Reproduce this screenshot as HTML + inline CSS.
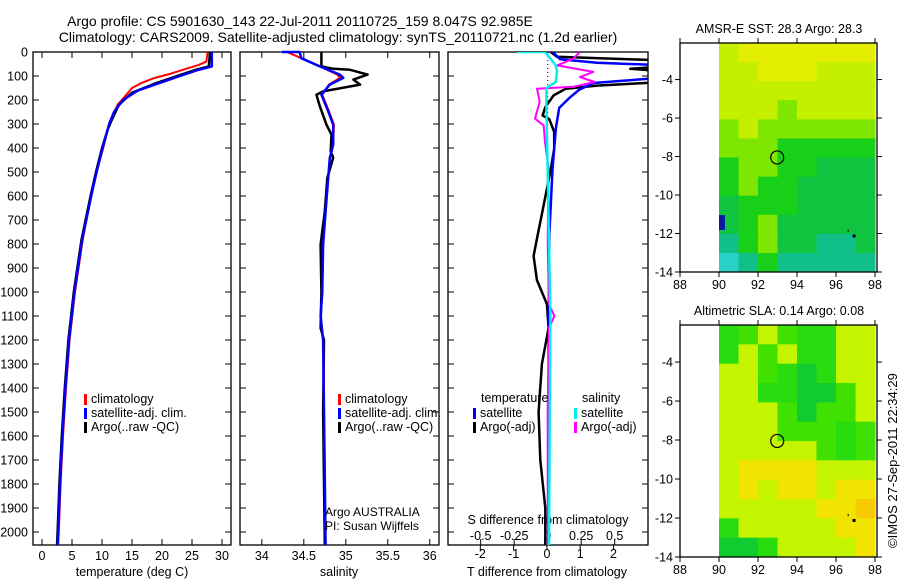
<!DOCTYPE html>
<html><head><meta charset="utf-8"><style>
body{margin:0;background:#fff;}
svg{display:block;font-family:"Liberation Sans",sans-serif;}
</style></head><body>
<svg id="c" width="900" height="580" xmlns="http://www.w3.org/2000/svg">
<text x="300" y="26" font-size="14" text-anchor="middle">Argo profile: CS 5901630_143 22-Jul-2011 20110725_159 8.047S 92.985E</text>
<text x="338" y="42" font-size="14" text-anchor="middle">Climatology: CARS2009. Satellite-adjusted climatology: synTS_20110721.nc (1.2d earlier)</text>
<g id="g"></g>
<text transform="translate(897,548) rotate(-90)" font-size="13">©IMOS 27-Sep-2011 22:34:29</text>
</svg>
<script>
// ---- data ----
const depthTicks=[0,100,200,300,400,500,600,700,800,900,1000,1100,1200,1300,1400,1500,1600,1700,1800,1900,2000];
const tempTicks=[0,5,10,15,20,25,30];
const salTicks=[34,34.5,35,35.5,36];
const tdiffTicks=[-2,-1,0,1,2];
const sdiffTicks=[-0.5,-0.25,0,0.25,0.5];
const sdiffLabels=["-0.5","-0.25","0","0.25","0.5"];
const tClim=[[0,27.6],[40,27.4],[55,26],[70,24],[90,21.5],[110,18.5],[130,16.5],[150,15],[180,14],[220,12.6],[290,11.3],[400,10.2],[500,9.1],[600,8.2],[780,6.8],[1000,5.5],[1200,4.6],[1400,4.0],[1600,3.5],[1800,3.1],[2000,2.8],[2054,2.7]];
const tSat=[[0,28.3],[60,28.3],[75,26],[100,23],[130,19.5],[160,16],[200,13.5],[250,12],[300,11.2],[400,10.1],[500,9.1],[600,8.2],[780,6.7],[1000,5.4],[1200,4.5],[1400,3.9],[1600,3.4],[1800,3.0],[2000,2.7],[2054,2.6]];
const tArgo=[[0,28],[60,27.8],[75,25.5],[100,22.5],[130,19],[170,15],[220,12.8],[290,11.5],[320,11],[400,10],[500,9.0],[600,8.1],[780,6.6],[1000,5.3],[1200,4.4],[1400,3.8],[1600,3.3],[1800,2.9],[2000,2.6],[2054,2.5]];
const sClim=[[0,34.3],[26,34.47],[60,34.69],[94,34.9],[108,34.93],[136,34.8],[178,34.72],[247,34.8],[303,34.86],[386,34.85],[442,34.81],[525,34.79],[664,34.76],[803,34.73],[1000,34.72],[1100,34.7],[1200,34.73],[1500,34.74],[2054,34.76]];
const sSat=[[0,34.24],[0,34.45],[26,34.47],[60,34.69],[94,34.93],[108,34.97],[136,34.81],[178,34.71],[247,34.79],[303,34.85],[386,34.85],[442,34.81],[525,34.79],[664,34.76],[803,34.73],[1000,34.72],[1100,34.7],[1200,34.73],[1500,34.74],[2054,34.76]];
const sArgo=[[0,34.71],[60,34.71],[70,34.85],[74,35.05],[94,35.26],[115,35.09],[136,35.17],[164,34.73],[178,34.65],[226,34.69],[303,34.77],[344,34.83],[414,34.82],[440,34.85],[525,34.78],[664,34.75],[803,34.7],[1000,34.71],[1150,34.7],[1200,34.74],[1500,34.73],[2054,34.75]];
const dTSat=[[0,0.17],[30,0.4],[45,1.5],[55,3.5],[100,3.5],[112,3.0],[129,1.4],[157,0.97],[192,0.67],[233,0.37],[317,0.27],[483,0.17],[761,0.07],[1200,0.05],[2054,0.05]];
const dTArgo=[[0,0.12],[20,0.3],[35,3.5],[60,3.5],[70,2.5],[80,3.5],[125,3.5],[140,1.5],[153,0.57],[181,0.2],[230,-0.05],[264,-0.13],[280,0.07],[333,0.22],[403,0.22],[486,0.12],[625,-0.08],[764,-0.28],[850,-0.4],[950,-0.3],[1050,0.0],[1150,0.05],[1300,-0.15],[1500,-0.25],[1700,-0.2],[1900,-0.05],[2054,-0.05]];
const dSArgo=[[0,0.24],[28,0.19],[56,0.07],[83,0.34],[104,0.24],[125,0.35],[145,0.19],[153,-0.08],[208,-0.06],[278,-0.095],[306,-0.03],[375,-0.02],[480,0.005],[800,0.0],[1050,0.01],[1100,0.05],[1150,0.01],[1500,0.0],[2054,0.0]];
const dSSat=[[0,-0.23],[0,-0.02],[28,0.02],[56,0.06],[83,0.07],[125,0.06],[150,-0.01],[220,-0.01],[500,0.0],[1100,0.02],[2054,0.01]];
const lonTicks=[88,90,92,94,96,98];
const latTicks=[-4,-6,-8,-10,-12,-14];
const sstGrid=["LYYYYYYY","LLYYYLLL","LLLLLLLL","LLLGLLLL","GLGGGGGG","GGGBBBBB","BGGBBDDD","BGBBDDDD","DBBBDDDD","DBGDDDDD","TBGDDTTD","CTBTTTTT"];
const slaGrid=["BGLGBBLL","BLGLBBLL","LLGBDBLL","LLBBDDGL","LLLGDGGL","LLLGGGBG","LLLLLGBG","LYYYYLLL","LYLYYLYY","LLLLLYYO","BLLLLLYY","DDBLLLLY"];
const sstCol={Y:"#e4ee00",L:"#c4f000",G:"#7ee600",B:"#18d018",D:"#10c440",T:"#10c088",C:"#28d0c8"};
const slaCol={Y:"#f0e400",L:"#c4f400",G:"#40e000",B:"#28dc10",D:"#10cc30",O:"#f8c800"};
// ---- rendering ----
const NS="http://www.w3.org/2000/svg",G=document.getElementById('g');
function el(t,a,p){const e=document.createElementNS(NS,t);for(const k in a)e.setAttribute(k,a[k]);(p||G).appendChild(e);return e;}
const top0=52,bot=545,dy=d=>top0+d*0.24;
const P1={x0:33,x1:231,v0:-1.5,v1:31.5},P2={x0:240,x1:439,v0:33.74,v1:36.11},P3={x0:448,x1:648,v0:-2.9706,v1:3.0354};
const sx=(P,v)=>P.x0+(v-P.v0)/(P.v1-P.v0)*(P.x1-P.x0);
const sS=v=>547.7+v*134;
function frame(P,name){
 const r=el('rect',{x:P.x0,y:top0,width:P.x1-P.x0,height:bot-top0,fill:'none',stroke:'#000','stroke-width':1.3});
 
 for(const d of depthTicks){el('line',{x1:P.x0,x2:P.x0+6,y1:dy(d),y2:dy(d),stroke:'#000'});el('line',{x1:P.x1-6,x2:P.x1,y1:dy(d),y2:dy(d),stroke:'#000'});}
}
function line(pts,fx,col,w,name,clipId){
 const p=el('polyline',{points:pts.map(q=>fx(q[1]).toFixed(1)+','+dy(q[0]).toFixed(1)).join(' '),fill:'none',stroke:col,'stroke-width':w,'stroke-linejoin':'round'});
 if(clipId)p.setAttribute('clip-path','url(#'+clipId+')');
 
}
function txt(x,y,s,sz,anc,name){const t=el('text',{x:x,y:y,'font-size':sz,'text-anchor':anc||'start'});t.textContent=s;
 return t;}
const defs=el('defs',{});
const cp=el('clipPath',{id:'cp3'},defs);el('rect',{x:448,y:52,width:200,height:493},cp);
frame(P1,'temperature-panel');frame(P2,'salinity-panel');frame(P3,'difference-panel');
for(const d of depthTicks)txt(28,dy(d)+4.5,String(d),12.5,'end','depth-tick-label');
for(const v of tempTicks){const x=sx(P1,v);el('line',{x1:x,x2:x,y1:bot,y2:bot-6,stroke:'#000'});el('line',{x1:x,x2:x,y1:top0,y2:top0+6,stroke:'#000'});txt(x,560,String(v),12.5,'middle','temp-tick-label');}
for(const v of salTicks){const x=sx(P2,v);el('line',{x1:x,x2:x,y1:bot,y2:bot-6,stroke:'#000'});el('line',{x1:x,x2:x,y1:top0,y2:top0+6,stroke:'#000'});txt(x,560,String(v),12.5,'middle','salinity-tick-label');}
for(const v of tdiffTicks){const x=sx(P3,v);el('line',{x1:x,x2:x,y1:bot,y2:bot+5,stroke:'#000'});txt(x,558,String(v),12.5,'middle','tdiff-tick-label');}
sdiffTicks.forEach((v,i)=>{const x=sS(v);el('line',{x1:x,x2:x,y1:bot,y2:bot-6,stroke:'#000'});txt(x,540,sdiffLabels[i],12.5,'middle','sdiff-tick-label');});
txt(132,576,'temperature (deg C)',12.5,'middle','temperature-axis-title');
txt(339,576,'salinity',12.5,'middle','salinity-axis-title');
txt(547,576,'T difference from climatology',12.5,'middle','tdiff-axis-title');
txt(548,524,'S difference from climatology',12.5,'middle','sdiff-axis-title');
line(tClim,v=>sx(P1,v),'#f00',2,'temp-climatology-line');
line(tArgo,v=>sx(P1,v),'#000',2.5,'temp-argo-line');
line(tSat,v=>sx(P1,v),'#00f',2.5,'temp-satellite-line');
line(sArgo,v=>sx(P2,v),'#000',2.5,'salinity-argo-line');
line(sClim,v=>sx(P2,v),'#f00',2,'salinity-climatology-line');
line(sSat,v=>sx(P2,v),'#00f',2.5,'salinity-satellite-line');
el('line',{x1:547.7,x2:547.7,y1:top0,y2:dy(320),stroke:'#000','stroke-dasharray':'1,3'});
line(dTArgo,v=>sx(P3,v),'#000',2.5,'tdiff-argo-line','cp3');
line(dTSat,v=>sx(P3,v),'#00f',2.5,'tdiff-satellite-line','cp3');
line(dSArgo,sS,'#f0f',2,'sdiff-argo-line','cp3');
line(dSSat,sS,'#0ee',2.5,'sdiff-satellite-line','cp3');
function leg(x,y,col,s,name){el('rect',{x:x,y:y-9,width:3,height:11,fill:col});txt(x+7,y,s,12.5,'start',name);}
leg(84,403,'#f00','climatology','legend-climatology');leg(84,417,'#00f','satellite-adj. clim.','legend-satellite');leg(84,431,'#000','Argo(..raw -QC)','legend-argo');
leg(338,403,'#f00','climatology','legend2-climatology');leg(338,417,'#00f','satellite-adj. clim.','legend2-satellite');leg(338,431,'#000','Argo(..raw -QC)','legend2-argo');
txt(481,402,'temperature',12.5,'start','legend3-temperature-head');
leg(473,417,'#00f','satellite','legend3-t-satellite');leg(473,431,'#000','Argo(-adj)','legend3-t-argo');
txt(582,402,'salinity',12.5,'start','legend3-salinity-head');
leg(574,417,'#0ee','satellite','legend3-s-satellite');leg(574,431,'#f0f','Argo(-adj)','legend3-s-argo');
txt(325,516,'Argo AUSTRALIA',12,'start','argo-australia-label');
txt(325,530,'PI: Susan Wijffels',12,'start','pi-label');
// maps
function map(y0,y1,grid,cols,title,name){
 const X0=680,X1=877,lx=l=>X0+(l-88)*19.5,ly=a=>y0+(-2.1-a)*(y1-y0)/11.9;
 txt(779,y0-10,title,12.5,'middle',name+'-title');
 const nr=grid.length,nc=grid[0].length;
 grid.forEach((row,r)=>{for(let c=0;c<nc;c++){const x=lx(90+c),xx=lx(91+c),yy=ly(-2.1-r*11.9/nr),yb=ly(-2.1-(r+1)*11.9/nr);
  const cell=el('rect',{x:x,y:yy,width:xx-x+0.5,height:yb-yy+0.5,fill:cols[row[c]]});
  }});
 const fr=el('rect',{x:X0,y:y0,width:X1-X0,height:y1-y0,fill:'none',stroke:'#000','stroke-width':1.3});
 
 for(const l of lonTicks){const x=lx(l);el('line',{x1:x,x2:x,y1:y1,y2:y1+5,stroke:'#000'});el('line',{x1:x,x2:x,y1:y0,y2:y0-5,stroke:'#000'});txt(x,y1+17,String(l),12.5,'middle',name+'-lon-label');}
 for(const a of latTicks){const y=ly(a);el('line',{x1:X0,x2:X0-5,y1:y,y2:y,stroke:'#000'});el('line',{x1:X1,x2:X1+5,y1:y,y2:y,stroke:'#000'});txt(X0-7,y+4.5,String(a),12.5,'end',name+'-lat-label');}
 const c=el('circle',{cx:lx(92.985),cy:ly(-8.047),r:6.5,fill:'none',stroke:'#000','stroke-width':1.2});
 
 el('rect',{x:lx(96.9)-1,y:ly(-12.1)-1,width:3,height:3,fill:'#000'});el('rect',{x:lx(96.6),y:ly(-11.8),width:1,height:2,fill:'#000'});
}
map(43,272,sstGrid,sstCol,'AMSR-E SST: 28.3 Argo: 28.3','sst-map');
el('rect',{x:719,y:215,width:6,height:15,fill:'#0a1aa0'});
map(325,557,slaGrid,slaCol,'Altimetric SLA: 0.14 Argo: 0.08','sla-map');
</script>
</body></html>
